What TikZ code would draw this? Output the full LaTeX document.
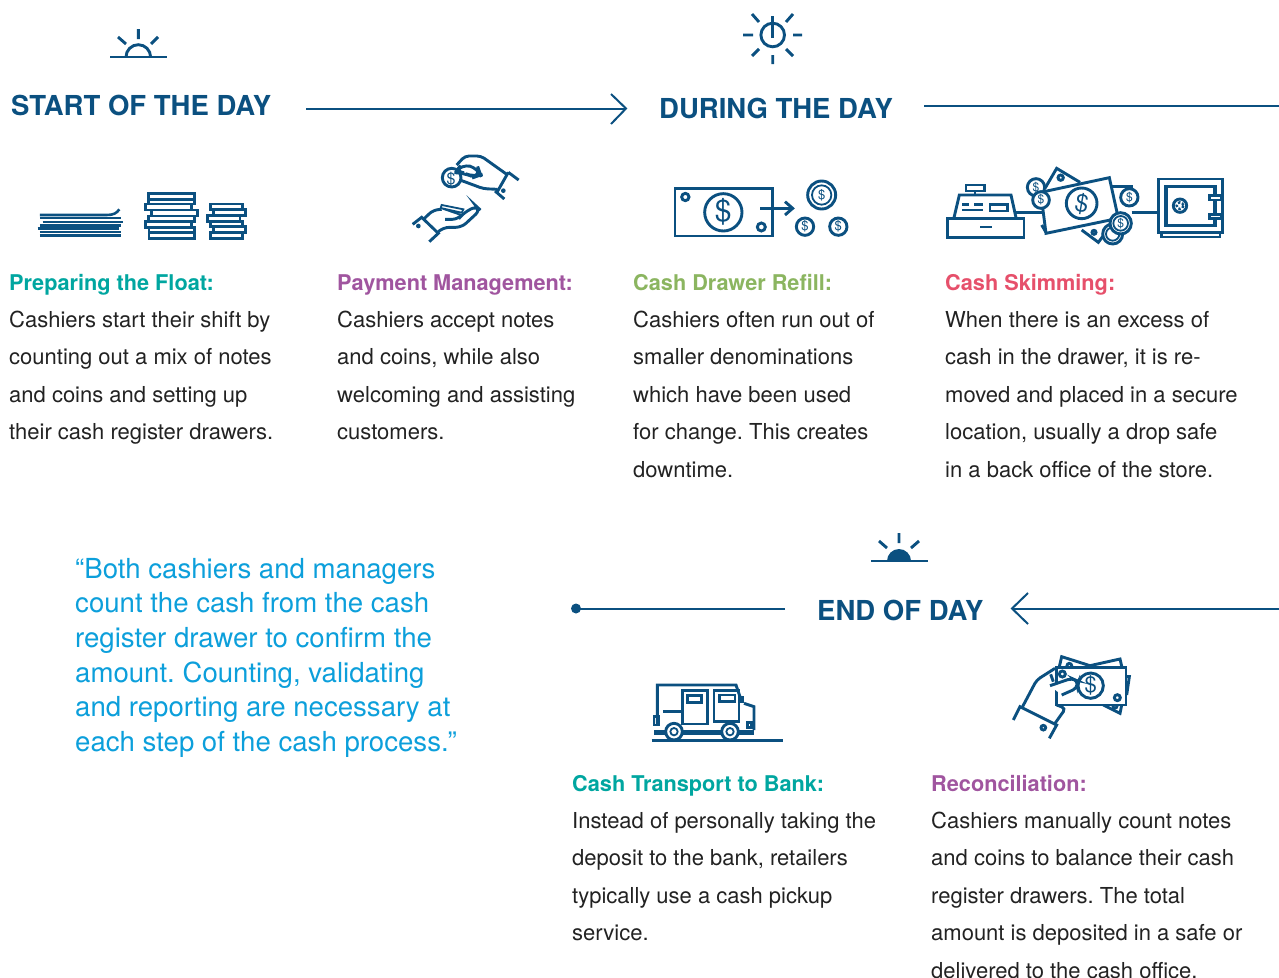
\documentclass[tikz,border=0pt]{standalone}
\usepackage{fontspec}
\setmainfont{TeX Gyre Heros}
\usetikzlibrary{calc}
\definecolor{navy}{HTML}{0B5080}
\definecolor{teal}{HTML}{00A6A0}
\definecolor{purp}{HTML}{A0559F}
\definecolor{grn}{HTML}{8BB560}
\definecolor{pnk}{HTML}{E6506B}
\definecolor{qblue}{HTML}{0C9FDB}
\definecolor{body}{HTML}{222222}
\frenchspacing
\tikzset{
 heading/.style={font=\fontsize{27.5}{30}\selectfont\bfseries,text=navy,inner sep=0,anchor=base west},
 para/.style={font=\fontsize{22}{37.45}\selectfont,text=body,inner sep=0,anchor=base west},
 quotetext/.style={font=\fontsize{27.6}{34.7}\selectfont,text=qblue,inner sep=0,anchor=base west},
 rule/.style={draw=navy,line width=2pt},
 ico/.style={draw=navy,line width=2.9pt,line join=miter},
 thin/.style={draw=navy,line width=1.8pt},
 zoomed/.style={x=0.33333pt,y=-0.33333pt},
 dollar/.style={text=navy,inner sep=0},
}
\newcommand{\ptitle}[2]{\textcolor{#1}{\fontsize{21.7}{37.45}\selectfont\bfseries #2}}
\begin{document}
\begin{tikzpicture}[x=1pt,y=-1pt]
\useasboundingbox (0,0) rectangle (1279,977);
% ---- headings
\node[heading] (start) at (11,115) {START OF THE DAY};
\node[heading] (during) at (659,118) {DURING THE DAY};
\node[heading] (endd) at (817,620.5) {END OF DAY};
% ---- connectors
\coordinate (a1) at (306,108.5);
\coordinate (a2) at (626,108.5);
\draw[rule] (a1) -- (a2);
\draw[rule,line join=miter] (611,94) -- (a2) -- (611,124);
\coordinate (b1) at (924,105.5);
\coordinate (b2) at (1279,105.5);
\draw[rule] (b1) -- (b2);
\coordinate (c1) at (1279,608.5);
\coordinate (c2) at (1012,608.5);
\draw[rule] (c1) -- (c2);
\draw[rule] (1028,593) -- (c2) -- (1028,624);
\coordinate (d1) at (785,608.5);
\coordinate (d2) at (576,608.5);
\draw[rule] (d1) -- (d2);
\fill[navy] (d2) circle (5);
% ---- sun start
\draw[ico] (110,57) -- (167,57);
\draw[ico] (126,57) arc (180:0:12.3 and -12.3);
\draw[ico] (138.3,29) -- (138.3,39) (118,37) -- (126,44) (158,37) -- (151,44);
% ---- sun during
\draw[ico] (772.7,35) circle (11.8);
\draw[ico] (772.7,16) -- (772.7,38);
\draw[ico] (743,35)--(753,35) (793,35)--(802,35) (772.7,55)--(772.7,64)
 (752,14)--(759,22) (793,14)--(786,22) (752,56)--(759,49) (793,56)--(786,49);
% ---- sun end
\draw[ico] (871,561) -- (928,561);
\fill[navy] (887,561) arc (180:0:12 and -12) -- cycle;
\draw[ico] (899,533) -- (899,543) (879,541) -- (887,548) (919,541) -- (911,548);
% ---- bills + coin stacks
\begin{scope}[shift={(0,0)},zoomed]
 \draw[ico,line width=2.6pt] (120,645) -- (320,645) .. controls (340,645) and (350,640) .. (358,628);
 \draw[ico,line width=2.6pt] (120,654)--(363,654) (128,666)--(370,666) (120,676)--(363,676) (113,686)--(356,686) (120,696)--(363,696) (120,707)--(363,707);
 \foreach \xa/\xb/\ya/\yb in {445/583/580/598,445/583/598/612,437/575/612/630,455/592/630/648,445/583/648/664,437/575/664/682,447/583/682/698,447/583/698/715,
   632/728/612/628,640/737/628/647,623/720/647/665,632/728/665/680,640/737/680/697,632/728/697/715}
  \draw[ico,fill=white] (\xa,\ya) rectangle (\xb,\yb);
\end{scope}
% ---- hands
\begin{scope}[shift={(400,140)},zoomed]
 \draw[ico] (155,113) circle (28);
 \node[dollar,font=\fontsize{16}{16}\selectfont] (hd) at (153,117) {\$};
 \draw[ico,fill=white,rounded corners=9pt] (165,98) -- (185,72) -- (235,85) -- (242,105) -- (222,112) -- (190,98) -- cycle;
 \draw[ico,rounded corners=4pt] (170,75) -- (195,48) -- (243,48) -- (323,105);
 \draw[ico,rounded corners=4pt] (180,120) -- (250,146) -- (293,148);
 \draw[ico] (325,97) -- (356,120) (325,97) -- (292,155) (285,153) -- (313,177);
 \fill[navy] (310,152) circle (7);
 \draw[ico] (38,253) -- (65,232) -- (115,280) -- (88,305);
 \fill[navy] (55,258) circle (7);
 \draw[ico,rounded corners=5pt] (70,238) -- (100,210) -- (125,208);
 \draw[ico,rounded corners=6pt] (115,275) -- (130,262) -- (185,262) -- (241,210) -- (228,198) -- (187,222) -- (175,238) -- (135,238);
 \draw[ico,line width=1.8pt] (125,195) -- (190,208) -- (185,218) -- (122,204) -- cycle (125,205) -- (180,224);
\end{scope}
% ---- cash refill
\begin{scope}[shift={(400,140)},zoomed]
 \draw[ico] (825,145) rectangle (1118,288);
 \draw[ico] (856,171) circle (11) (1084,261) circle (12) (970,217) circle (56);
 \node[dollar,font=\fontsize{30}{30}\selectfont] (cd) at (970,217) {\$};
 \draw[ico] (1080,205) -- (1175,205);
 \draw[ico] (1155,185) -- (1178,205) -- (1155,225);
 \draw[ico] (1265,165) circle (42);
 \draw[thin] (1265,165) circle (29);
 \node[dollar,font=\fontsize{13}{13}\selectfont] (c1d) at (1265,165) {\$};
 \draw[ico] (1215,260) circle (26) (1315,260) circle (26);
 \node[dollar,font=\fontsize{13}{13}\selectfont] (c2d) at (1215,260) {\$};
 \node[dollar,font=\fontsize{13}{13}\selectfont] (c3d) at (1315,260) {\$};
\end{scope}
% ---- skimming
\begin{scope}[shift={(930,155)},zoomed]
 \draw[ico] (52,190) rectangle (282,247);
 \draw[ico] (72,188) -- (88,120) -- (243,120) -- (258,188);
 \draw[ico] (135,108) -- (135,120);
 \draw[ico] (108,90) rectangle (163,108);
 \draw[ico] (180,148) rectangle (233,168);
 \draw[ico] (97,148)--(118,148) (133,148)--(160,148) (97,165)--(160,165);
 \draw[ico] (150,216)--(187,216);
 \draw[ico] (258,172) -- (335,172);
 \draw[ico] (605,172) -- (688,172);
 % back notes
 \draw[ico,fill=white] (345,100) -- (380,40) -- (450,82);
 \draw[ico] (392,68) circle (8);
 \draw[ico] (540,95) -- (605,95) -- (605,110);
 \draw[ico,fill=white] (335,210) -- (348,232);
 \draw[ico,fill=white] (455,225) -- (505,262) -- (525,235);
 \draw[ico] (492,232) circle (6);
 % coins back
 \draw[ico,fill=white] (318,97) circle (26);
 \node[dollar,font=\fontsize{12}{12}\selectfont] (s1) at (318,97) {\$};
 \draw[ico,fill=white] (598,127) circle (26);
 \node[dollar,font=\fontsize{12}{12}\selectfont] (s2) at (598,127) {\$};
 % front note
 \draw[ico,fill=white] (332,112) -- (538,68) -- (565,190) -- (348,235) -- cycle;
 \draw[ico] (455,145) circle (46);
 \node[dollar,font=\fontsize{24}{24}\selectfont,rotate=-10] (s3) at (455,147) {\$};
 \draw[ico,fill=white] (333,135) circle (25);
 \node[dollar,font=\fontsize{12}{12}\selectfont] (s4) at (333,135) {\$};
 \draw[ico,fill=white] (548,237) circle (30);
 \draw[thin] (548,237) circle (20);
 \draw[ico,fill=white] (572,205) circle (32);
 \draw[thin] (572,205) circle (22);
 \node[dollar,font=\fontsize{12}{12}\selectfont] (s5) at (572,205) {\$};
 % safe
 \draw[ico] (686,72) rectangle (878,232);
 \draw[ico] (695,232) -- (695,246) -- (870,246) -- (870,232);
 \draw[ico,line width=3.4pt] (708,95) rectangle (855,212);
 \draw[ico] (750,152) circle (20);
 \draw[navy,dotted,line width=2.4pt] (750,152) circle (10);
 \draw[ico,fill=white] (838,122) rectangle (875,135);
 \draw[ico,fill=white] (838,178) rectangle (875,191);
\end{scope}
% ---- truck
\begin{scope}[shift={(640,650)},zoomed]
 \draw[ico] (52,225) -- (52,105) -- (288,105) -- (300,140);
 \fill[navy] (298,138) rectangle (312,160);
 \draw[ico] (312,160) -- (342,170) -- (342,240);
 \draw[ico] (127,122) rectangle (203,222);
 \draw[ico] (222,122) rectangle (297,215);
 \draw[ico] (143,137) rectangle (185,157);
 \draw[ico] (238,135) rectangle (285,155);
 \draw[ico] (70,185) -- (127,185);
 \draw[ico] (42,200) rectangle (55,225);
 \draw[ico] (322,218) rectangle (335,232);
 \fill[navy] (42,240) rectangle (342,255);
 \draw[ico,fill=white] (102,245) circle (25);
 \draw[ico,fill=white] (270,245) circle (25);
 \draw[thin] (102,245) circle (11) (270,245) circle (11);
 \draw[ico] (35,271) -- (430,271);
\end{scope}
% ---- hand with cash
\begin{scope}[shift={(1000,645)},zoomed]
 \draw[ico] (160,110) -- (152,88) (178,65) -- (185,35) -- (270,62) -- (360,42) -- (366,68);
 \draw[ico] (380,95) -- (388,95) -- (380,150);
 \draw[ico] (310,180) -- (360,205) -- (365,180);
 \draw[ico] (208,62) circle (7);
 \draw[ico] (345,183) circle (6);
 \draw[ico,fill=white] (170,68) rectangle (378,180);
 \draw[ico] (187,87) circle (9) (352,158) circle (9) (272,122) circle (38);
 \node[dollar,font=\fontsize{22}{22}\selectfont] (hc) at (272,122) {\$};
 \draw[ico,fill=white,rounded corners=4pt] (150,122) -- (215,100) -- (233,108) -- (230,130) -- (185,150);
 \draw[ico,rounded corners=4pt] (65,190) -- (110,105) -- (165,70);
 \draw[ico,rounded corners=4pt] (170,180) -- (197,190) -- (165,235);
 \draw[ico] (40,225) -- (60,185) -- (170,240) -- (148,280);
 \draw[ico] (130,248) circle (7);
\end{scope}
% ---- paragraphs
\node[para] (p1) at (9,290) {\begin{tabular}[t]{@{}l@{}}\ptitle{teal}{Preparing the Float:}\\Cashiers start their shift by\\counting out a mix of notes\\and coins and setting up\\their cash register drawers.\end{tabular}};
\node[para] (p2) at (337,290) {\begin{tabular}[t]{@{}l@{}}\ptitle{purp}{Payment Management:}\\Cashiers accept notes\\and coins, while also\\welcoming and assisting\\customers.\end{tabular}};
\node[para] (p3) at (633,290) {\begin{tabular}[t]{@{}l@{}}\ptitle{grn}{Cash Drawer Refill:}\\Cashiers often run out of\\smaller denominations\\which have been used\\for change. This creates\\downtime.\end{tabular}};
\node[para] (p4) at (945,290) {\begin{tabular}[t]{@{}l@{}}\ptitle{pnk}{Cash Skimming:}\\When there is an excess of\\cash in the drawer, it is re-\\moved and placed in a secure\\location, usually a drop safe\\in a back office of the store.\end{tabular}};
\node[para] (p5) at (572,791) {\begin{tabular}[t]{@{}l@{}}\ptitle{teal}{Cash Transport to Bank:}\\Instead of personally taking the\\deposit to the bank, retailers\\typically use a cash pickup\\service.\end{tabular}};
\node[para] (p6) at (931,791) {\begin{tabular}[t]{@{}l@{}}\ptitle{purp}{Reconciliation:}\\Cashiers manually count notes\\and coins to balance their cash\\register drawers. The total\\amount is deposited in a safe or\\delivered to the cash office.\end{tabular}};
\node[quotetext] (q) at (75,578) {\begin{tabular}[t]{@{}l@{}}“Both cashiers and managers\\count the cash from the cash\\register drawer to confirm the\\amount. Counting, validating\\and reporting are necessary at\\each step of the cash process.”\end{tabular}};
\end{tikzpicture}
\end{document}
